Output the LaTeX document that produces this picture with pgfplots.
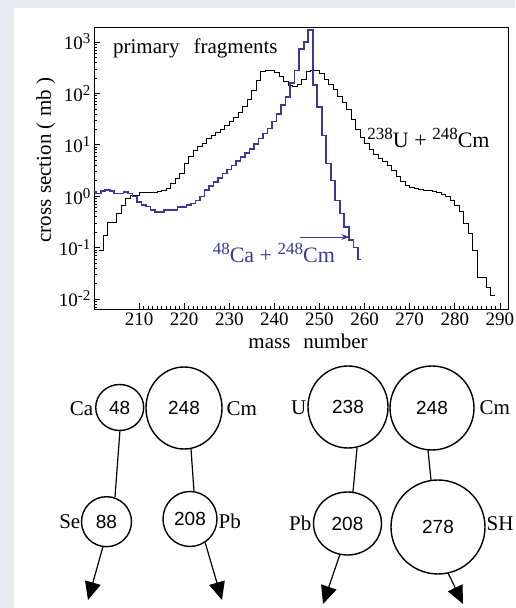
\documentclass[border=0pt]{standalone}
\usepackage{fontspec}
\setmainfont{Liberation Serif}
\newfontfamily\numfont{Liberation Sans}
\usepackage{pgfplots}
\pgfplotsset{compat=1.18}
\usetikzlibrary{arrows.meta}

\definecolor{pagebg}{RGB}{230,234,242}
\definecolor{cablue}{RGB}{58,58,150}

% 10^n tick labels in the text font
\newcommand\tp[1]{10\raisebox{6pt}{\fontsize{15}{15}\selectfont #1}}
% isotope: mass number raised before the symbol
\newcommand\iso[2]{\raisebox{8pt}{\fontsize{17}{17}\selectfont #1}#2}

\begin{document}
\begin{tikzpicture}
\useasboundingbox (0pt,0pt) rectangle (515pt,608pt);
\fill[pagebg] (0pt,0pt) rectangle (515pt,608pt);
\fill[white] (14pt,0pt) rectangle (515pt,600pt);

\begin{axis}[
    at={(94pt,299pt)}, anchor=south west,
    scale only axis, width=414pt, height=282pt,
    ymode=log,
    xmin=200, xmax=291.8, ymin=0.0064, ymax=1960,
    xtick={210,220,...,290},
    minor x tick num=9,
    ytick={0.01,0.1,1,10,100,1000},
    yticklabels={\tp{-2},\tp{-1},\tp{0},\tp{1},\tp{2},\tp{3}},
    minor ytick={0.007,0.008,0.009,0.02,0.03,0.04,0.05,0.06,0.07,0.08,0.09,
                 0.2,0.3,0.4,0.5,0.6,0.7,0.8,0.9,2,3,4,5,6,7,8,9,
                 20,30,40,50,60,70,80,90,200,300,400,500,600,700,800,900},
    tick pos=left, tick align=inside,
    major tick length=6pt, minor tick length=3.5pt,
    /pgf/number format/assume math mode=true,
    /pgf/number format/1000 sep={},
    tick label style={font=\fontsize{19}{22}\selectfont},
    xlabel={mass\hspace{13pt}number},
    ylabel={cross section ( mb )},
    every axis x label/.style={at={(rel axis cs:0.517,-0.1383)}, anchor=base,
        font=\fontsize{21}{24}\selectfont},
    every axis y label/.style={at={(rel axis cs:-0.1039,0.528)}, rotate=90, anchor=base,
        font=\fontsize{21}{24}\selectfont},
    axis line style={line width=0.9pt},
    every tick/.style={black, line width=0.7pt},
]

% 238U + 248Cm (left bin edge, cross section)
\addplot[const plot, black, line width=0.8pt] table {
x y
201 0.0891
202 0.174
203 0.316
204 0.316
205 0.457
206 0.661
207 0.891
208 1.047
209 1.047
210 1.202
211 1.202
212 1.202
213 1.202
214 1.259
215 1.318
216 1.413
217 1.778
218 2.239
219 2.754
220 4.365
221 5.888
222 7.943
223 9.120
224 10.47
225 13.18
226 15.49
227 17.78
228 19.95
229 23.44
230 28.18
231 34.67
232 43.65
233 56.23
234 75.86
235 112.2
236 177.8
237 263.0
238 281.8
239 281.8
240 251.2
241 218.8
242 173.8
243 144.5
244 134.9
245 151.4
246 190.5
247 263.0
248 281.8
249 281.8
250 239.9
251 190.5
252 151.4
253 120.2
254 89.13
255 66.07
256 47.86
257 31.62
258 19.95
259 14.13
260 10.47
261 8.318
262 6.607
263 5.495
264 4.677
265 3.981
266 3.162
267 2.399
268 1.905
269 1.660
270 1.514
271 1.413
272 1.349
273 1.318
274 1.288
275 1.259
276 1.202
277 1.096
278 1.000
279 0.832
280 0.661
281 0.501
282 0.295
283 0.186
284 0.0891
285 0.0269
286 0.0269
287 0.0170
288 0.0117
289 0.0117
};

% 48Ca + 248Cm
\addplot[const plot, cablue, line width=1.6pt] table {
x y
199.5 1.20
200.5 1.12
201.5 1.26
202.5 1.32
203.5 1.26
204.5 1.12
205.5 1.12
206.5 1.20
207.5 1.12
208.5 0.98
209.5 0.78
210.5 0.68
211.5 0.63
212.5 0.54
213.5 0.50
214.5 0.50
215.5 0.54
216.5 0.54
217.5 0.54
218.5 0.62
219.5 0.62
220.5 0.68
221.5 0.72
222.5 0.83
223.5 0.98
224.5 1.32
225.5 1.58
226.5 1.91
227.5 2.24
228.5 2.75
229.5 3.31
230.5 3.98
231.5 4.79
232.5 5.75
233.5 6.92
234.5 8.32
235.5 10.5
236.5 13.2
237.5 16.6
238.5 20.9
239.5 28.2
240.5 39.8
241.5 60.3
242.5 85.0
243.5 158
244.5 280
245.5 741
246.5 1000
247.5 1698
248.5 145
249.5 55.0
250.5 15.1
251.5 4.37
252.5 2.04
253.5 0.83
254.5 0.46
255.5 0.25
256.5 0.141
257.5 0.100
258.5 0.059
259.3 0.059
};

\node[anchor=base west, inner sep=0pt, font=\fontsize{21}{24}\selectfont]
    at (axis cs:204.2,611) {primary\hspace{14pt}fragments};
\node[anchor=base west, inner sep=0pt, font=\fontsize{22}{24}\selectfont]
    at (axis cs:260.6,9.06) {\iso{238}{U} + \iso{248}{Cm}};
\node[anchor=base west, inner sep=0pt, text=cablue, font=\fontsize{22}{24}\selectfont]
    at (axis cs:226.3,0.0525) {\iso{48}{Ca} + \iso{248}{Cm}};
\draw[cablue, line width=1pt, -{Stealth[length=8pt,width=6pt]}]
    (axis cs:245.6,0.161) -- (axis cs:256.6,0.161);
\end{axis}

% nuclei sketches
\begin{scope}[x=1pt, y=1pt, line width=1.4pt,
    num/.style={font=\numfont\fontsize{19}{22}\selectfont},
    lab/.style={inner sep=0pt, font=\fontsize{21}{24}\selectfont},
    arr/.style={line width=1.2pt, -{Triangle[length=18pt,width=16pt]}}]
  % 48Ca + 248Cm
  \draw (119.7,200.5) ellipse [x radius=24pt, y radius=23pt];
  \draw (184,200) ellipse [x radius=38pt, y radius=41pt];
  \draw (106.5,86.3) ellipse [x radius=25pt, y radius=25pt];
  \draw (190,89) ellipse [x radius=27pt, y radius=27.5pt];
  \node[num] at (119.7,200.5) {48};
  \node[num] at (184,200) {248};
  \node[num] at (106.5,86.3) {88};
  \node[num] at (190,89) {208};
  \node[lab, anchor=base east] at (94,192) {Ca};
  \node[lab, anchor=base west] at (226,192) {Cm};
  \node[lab, anchor=base east] at (81,79) {Se};
  \node[lab, anchor=base west] at (218,79) {Pb};
  \draw[line width=1.2pt] (120,178) -- (115,111);
  \draw[line width=1.2pt] (191,159) -- (194,116.5);
  \draw[arr] (103,61.5) -- (88,8);
  \draw[arr] (205,66) -- (222,8);
  % 238U + 248Cm
  \draw (348,201) ellipse [x radius=40pt, y radius=41pt];
  \draw (432,200) ellipse [x radius=42pt, y radius=42pt];
  \draw (347.5,84.5) ellipse [x radius=34pt, y radius=31.5pt];
  \draw (438,81) ellipse [x radius=47pt, y radius=47pt];
  \node[num] at (348,201) {238};
  \node[num] at (432,200) {248};
  \node[num] at (347.5,84.5) {208};
  \node[num] at (438,81) {278};
  \node[lab, anchor=base east] at (307,193) {U};
  \node[lab, anchor=base west] at (479,193) {Cm};
  \node[lab, anchor=base east] at (312,77) {Pb};
  \node[lab, anchor=base west] at (486,77) {SH};
  \draw[line width=1.2pt] (357,160) -- (353,116);
  \draw[line width=1.2pt] (428,158) -- (431,128);
  \draw[arr] (340,53.8) -- (323,4);
  \draw[arr] (448,35.1) -- (463,4);
\end{scope}
\end{tikzpicture}
\end{document}
